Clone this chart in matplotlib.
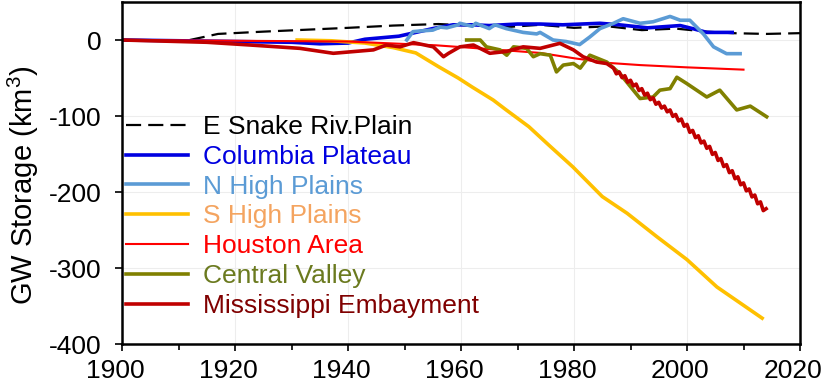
import numpy as np
import matplotlib
matplotlib.use("Agg")
import matplotlib.pyplot as plt
import matplotlib.transforms as mtransforms

plt.rcParams['font.family'] = ['Liberation Sans', 'DejaVu Sans']
plt.rcParams['mathtext.default'] = 'regular'
plt.rcParams['axes.unicode_minus'] = False

# E Snake River Plain
snake_yr = [1912, 1917, 1925, 1931, 1940, 1948, 1956, 1962, 1968, 1974, 1980, 1986, 1992, 1998, 2003.5, 2008, 2014, 2020]
snake_gw = [0, 8, 11, 13, 16, 19, 21, 19, 17, 20, 16, 18, 13, 15, 11, 9, 8, 9]

# Columbia Plateau
colum_yr = [1900, 1910, 1920, 1930, 1935, 1940, 1943, 1946, 1949, 1952, 1955, 1958.6, 1962, 1965, 1970, 1974, 1978, 1984.6, 1988, 1993, 1998.8, 2001, 2003.5, 2008]
colum_gw = [0, -1, -2, -3, -5, -4, 1, 3, 5, 10, 15, 20, 20, 19, 21, 21, 20, 22, 20, 16, 19, 15, 10, 10]

# N High Plains
nhp_yr = [1950.4, 1951.5, 1953, 1955, 1956.3, 1957.5, 1959.5, 1959.8, 1962, 1962.6, 1965, 1966, 1968, 1971, 1973.4, 1974, 1976.3, 1978.6, 1981, 1982.8, 1984.6, 1987, 1988.7, 1991.7, 1994, 1997, 1998.8, 2000.5, 2002.9, 2004.7, 2007, 2009.4]
nhp_gw = [0, 11, 12, 13, 17, 16, 20, 22, 18, 22, 15, 20, 15, 10, 8, 10, 0, -2, -6, 4, 15, 22, 28, 22, 24, 31, 26, 26, 8, -9, -18, -18]

# S High Plains
shp_yr = [1931, 1937, 1943, 1948, 1952, 1956, 1959.5, 1962, 1965.7, 1968, 1972, 1975.5, 1979.8, 1985, 1989.4, 1994.7, 2000, 2005.3, 2009.4, 2013.3]
shp_gw = [0, -1, -4, -10, -17, -35, -50, -62, -79, -92, -114, -138, -167, -206, -228, -259, -289, -325, -346, -366]

# Houston Area
hou_yr = [1900, 1920, 1940, 1955.6, 1965, 1974, 1980, 1985.8, 1991.7, 2000, 2010]
hou_gw = [0, -1, -2, -7, -12, -17, -24, -30, -33, -36, -39]

# Central Valley
cv_yr = [1961.0, 1963.4, 1964.5, 1966.9, 1968.1, 1969.3, 1971.6, 1972.8, 1974.0, 1975.8, 1976.9, 1978.1, 1979.9, 1981.1, 1982.8, 1985.8, 1988.1, 1991.7, 1994.0, 1995.2, 1997.0, 1998.2, 1999.9, 2003.5, 2005.8, 2008.8, 2011.2, 2014.1]
cv_gw = [0, 0, -9, -13, -20, -9, -11, -22, -18, -20, -42, -33, -31, -37, -20, -29, -44, -77, -75, -66, -64, -49, -57, -75, -66, -92, -87, -101]

# Mississippi Embayment (semi-annual wiggle after 1987)
mis_yr = [1900, 1915, 1922.7, 1931.5, 1937.4, 1944.5, 1946.8, 1949.2, 1951.6, 1955.1, 1956.9, 1957.8, 1959.8, 1962.2,
          1965.1, 1968.1, 1971, 1974, 1977.5, 1979.9, 1981.6, 1984, 1985.8,
          1987, 1987.5, 1988, 1988.5, 1989, 1989.5, 1990, 1990.5, 1991, 1991.5, 1992, 1992.5, 1993, 1993.5,
          1994, 1994.5, 1995, 1995.5, 1996, 1996.5, 1997, 1997.5, 1998, 1998.5, 1999, 1999.5, 2000, 2000.5,
          2001, 2001.5, 2002, 2002.5, 2003, 2003.5, 2004, 2004.5, 2005, 2005.5, 2006, 2006.5, 2007, 2007.5,
          2008, 2008.5, 2009, 2009.5, 2010, 2010.5, 2011, 2011.5, 2012, 2012.5, 2013, 2013.5, 2014]
mis_gw = [0, -3, -6.6, -11, -17.5, -13, -6.6, -9, -3.5, -9, -22, -17.5, -9, -6.6,
          -17.5, -15, -9, -11, -4.4, -13, -22, -29, -31,
          -37, -44.5, -42, -49.5, -47, -55.5, -53, -60.5, -58, -66.5, -64, -72.5, -70, -78.5,
          -76, -84.5, -82, -89.5, -87, -94.5, -92, -100.5, -98, -106.5, -104, -113.5, -111, -121.5,
          -119, -128.5, -126, -135.5, -133, -142.5, -140, -150.5, -148, -158.5, -156, -166.5, -164, -174.5,
          -172, -182.5, -180, -190.5, -188, -198.5, -196, -206.5, -204, -215.5, -213, -224.5, -222]

series = [
    ('E Snake Riv.Plain', snake_yr, snake_gw, 'black', 'black', 1.6, (0, (6.8, 3.2))),
    ('Columbia Plateau', colum_yr, colum_gw, '#0000E0', '#0000E0', 2.6, '-'),
    ('N High Plains', nhp_yr, nhp_gw, '#5B9BD5', '#5B9BD5', 2.6, '-'),
    ('S High Plains', shp_yr, shp_gw, '#FFC000', '#F4A460', 2.6, '-'),
    ('Houston Area', hou_yr, hou_gw, '#FF0000', '#FF0000', 1.5, '-'),
    ('Central Valley', cv_yr, cv_gw, '#808000', '#6B7A1F', 2.6, '-'),
    ('Mississippi Embayment', mis_yr, mis_gw, '#C00000', '#800000', 2.6, '-'),
]

fig = plt.figure(figsize=(8.24, 3.9), dpi=100)
ax = fig.add_axes([122 / 824, 1 - 344 / 390, (800 - 122) / 824, 342 / 390])

for name, x, y, lc, tc, lw, ls in series:
    ax.plot(x, y, color=lc, lw=lw, ls=ls, label=name)

ax.set_xlim(1900, 2020)
ax.set_ylim(-400, 50)
ax.set_xticks(np.arange(1900, 2021, 20))
ax.set_xticks(np.arange(1910, 2020, 20), minor=True)
ax.set_yticks([-400, -300, -200, -100, 0])
ax.grid(True, which='major', color='#EDEDED', lw=0.8)
ax.set_axisbelow(True)
ax.tick_params(axis='both', which='major', labelsize=19, direction='out', length=5, width=1.2, colors='black')
ax.tick_params(axis='x', which='major', pad=6)
ax.tick_params(axis='y', which='major', pad=10)
ax.tick_params(axis='x', which='minor', direction='out', length=4, width=1.2)
for s in ax.spines.values():
    s.set_linewidth(1.8)

# x tick labels sit a little left of their ticks in the original
shift = mtransforms.ScaledTranslation(-7 / 100, 0, fig.dpi_scale_trans)
for lab in ax.get_xticklabels():
    lab.set_transform(lab.get_transform() + shift)

ax.set_ylabel('GW Storage (km$^3$)', fontsize=21)
ax.yaxis.set_label_coords(-0.12, 0.465)

leg = ax.legend(loc='upper left', bbox_to_anchor=(126 / 824, 1 - 115 / 390), bbox_transform=fig.transFigure,
                frameon=False, fontsize=19, handlelength=2.35, handletextpad=0.57, labelspacing=0.22,
                borderpad=0, borderaxespad=0)
for txt, s in zip(leg.get_texts(), series):
    txt.set_color(s[4])

fig.savefig('out.png', dpi=100)
